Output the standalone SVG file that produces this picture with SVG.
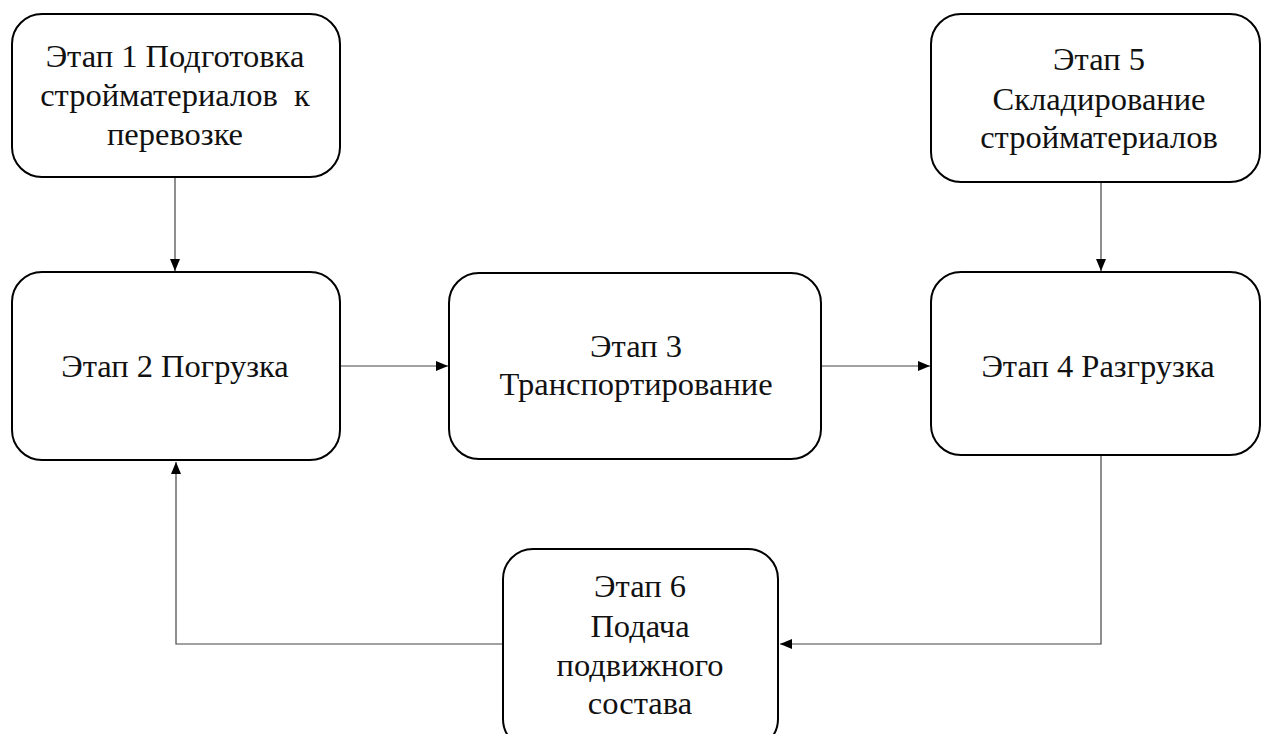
<svg xmlns="http://www.w3.org/2000/svg" width="1261" height="734" viewBox="0 0 1261 734">
<style>
.box{fill:#fff;stroke:#000;stroke-width:2}
.t{font-family:Liberation Serif,Times New Roman,Tinos,serif;font-size:32.5px;fill:#111;text-anchor:middle}
.c{fill:none;stroke:#444;stroke-width:1.2}
</style>
<defs>
<marker id="ah" viewBox="0 0 12 10" refX="12" refY="5" markerWidth="12" markerHeight="10" markerUnits="userSpaceOnUse" orient="auto">
<path d="M0,0 L12,5 L0,10 z" fill="#000"/>
</marker>
</defs>
<rect width="1261" height="734" fill="#fff"/>
<g id="connectors">
<path class="c" d="M175,177 V271" marker-end="url(#ah)"/>
<path class="c" d="M1101,183 V271" marker-end="url(#ah)"/>
<path class="c" d="M341,366 H448" marker-end="url(#ah)"/>
<path class="c" d="M822,366 H930" marker-end="url(#ah)"/>
<path class="c" d="M1101,456 V644 H780" marker-end="url(#ah)"/>
<path class="c" d="M502,644 H176 V462" marker-end="url(#ah)"/>
</g>
<g id="n1">
<rect class="box" x="12" y="14" width="328" height="163" rx="30"/>
<text class="t" x="175" y="67">Этап 1 Подготовка</text>
<text class="t" x="175" y="106" xml:space="preserve">стройматериалов  к</text>
<text class="t" x="175" y="145">перевозке</text>
</g>
<g id="n2">
<rect class="box" x="12" y="272" width="328" height="188" rx="30"/>
<text class="t" x="175" y="377">Этап 2 Погрузка</text>
</g>
<g id="n3">
<rect class="box" x="449" y="273" width="372" height="186" rx="30"/>
<text class="t" x="636" y="357">Этап 3</text>
<text class="t" x="636" y="395">Транспортирование</text>
</g>
<g id="n4">
<rect class="box" x="931" y="272" width="329" height="183" rx="30"/>
<text class="t" x="1098" y="377">Этап 4 Разгрузка</text>
</g>
<g id="n5">
<rect class="box" x="931" y="14" width="329" height="168" rx="30"/>
<text class="t" x="1099" y="70">Этап 5</text>
<text class="t" x="1099" y="110">Складирование</text>
<text class="t" x="1099" y="148">стройматериалов</text>
</g>
<g id="n6">
<rect class="box" x="503" y="549" width="275" height="200" rx="30"/>
<text class="t" x="640" y="597">Этап 6</text>
<text class="t" x="640" y="637">Подача</text>
<text class="t" x="640" y="676">подвижного</text>
<text class="t" x="640" y="714">состава</text>
</g>
</svg>
